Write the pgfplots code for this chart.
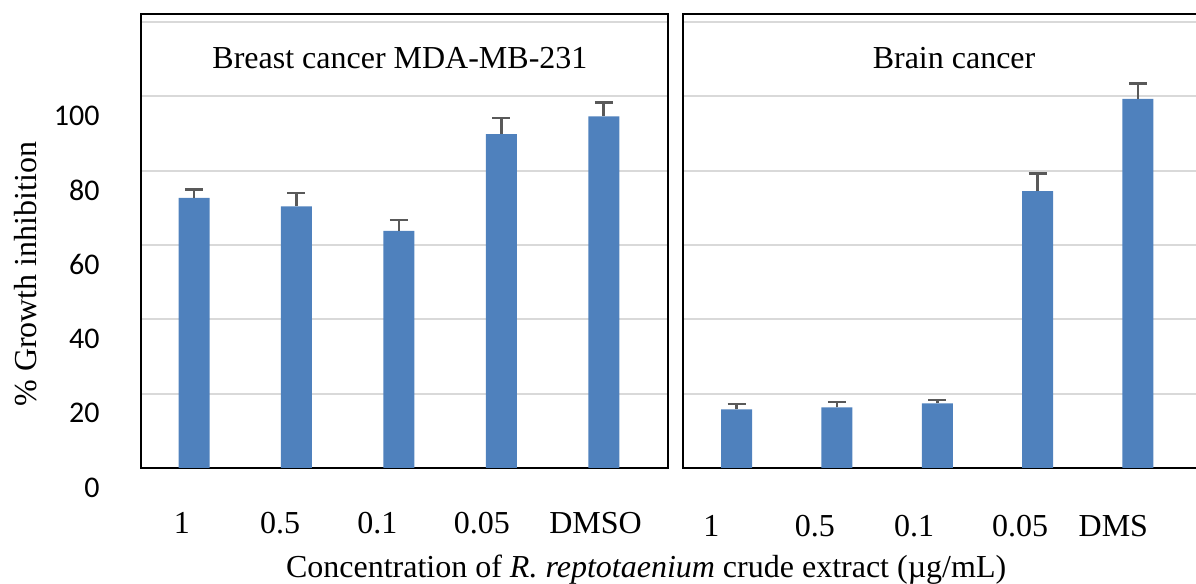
\documentclass[border=0pt]{standalone}
\usepackage{pgfplots}
\pgfplotsset{compat=1.18}
\usepackage{fontspec}
\setmainfont{Liberation Serif}
\newfontfamily\carlito{Carlito}
\definecolor{barblue}{HTML}{4F81BD}
\definecolor{errgray}{HTML}{595959}
\definecolor{gridgray}{HTML}{D9D9D9}
\begin{document}
\begin{tikzpicture}
\pgfplotsset{
  panel/.style={
    scale only axis,
    anchor=south west,
    height=227pt,
    ymin=0, ymax=122.14,
    ytick={0,20,40,60,80,100,120},
    ymajorgrids,
    major grid style={line width=1pt, gridgray},
    axis line style={line width=1.1pt, black},
    major tick length=0pt,
    ybar, bar width=15.5pt, bar shift=0pt,
    /pgf/number format/assume math mode=true,
    xticklabel style={font=\fontsize{16}{19}\selectfont, anchor=base},
    title style={font=\fontsize{16}{19}\selectfont, anchor=base},
    clip=false,
  },
  errbars/.style={
    fill=barblue, draw=none,
    error bars/.cd, y dir=plus, y explicit,
    error bar style={line width=1.3pt, errgray},
    error mark options={rotate=90, line width=1.3pt, errgray, mark size=4.5pt},
  },
}
% Left panel
\begin{axis}[panel,
  at={(70.5pt,58pt)}, width=263.35pt,
  xmin=-0.518, xmax=4.624,
  xtick={-0.12,0.84,1.79,2.81,3.92},
  xticklabels={1,0.5,0.1,0.05,DMSO},
  xticklabel style={yshift=-32.9pt},
  yticklabels={0,20,40,60,80,100,{}},
  yticklabel style={font=\carlito\fontsize{15}{18}\selectfont, anchor=east, inner sep=0pt, xshift=-20.5pt, yshift=-9.85pt},
  title={Breast cancer MDA-MB-231},
  title style={at={(0.5,1)}, xshift=-2.2pt, yshift=-33.25pt},
  ylabel={\% Growth inhibition},
  ylabel style={font=\fontsize{16}{19}\selectfont, at={(-0.2183,0.427)}, anchor=center},
  xlabel={Concentration of \textit{R. reptotaenium} crude extract (µg/mL)},
  xlabel style={font=\fontsize{16}{19}\selectfont, at={(0.959,0)}, anchor=base, yshift=-55pt},
]
\addplot[errbars] coordinates {
  (0,72.7) +- (0,2.3)
  (1,70.4) +- (0,3.6)
  (2,63.8) +- (0,2.9)
  (3,89.8) +- (0,4.4)
  (4,94.6) +- (0,3.7)
};
\end{axis}
% Right panel
\begin{axis}[panel,
  at={(341.35pt,58pt)}, width=259.65pt,
  xmin=-0.538, xmax=4.639,
  xtick={-0.253,0.78,1.77,2.825,3.755},
  xticklabels={1,0.5,0.1,0.05,DMS},
  xticklabel style={yshift=-34.4pt},
  yticklabels={},
  title={Brain cancer},
  title style={at={(0.5225,1)}, yshift=-33.25pt},
]
\addplot[errbars] coordinates {
  (0,15.8) +- (0,1.4)
  (1,16.3) +- (0,1.5)
  (2,17.4) +- (0,0.9)
  (3,74.5) +- (0,4.7)
  (4,99.3) +- (0,4.1)
};
\end{axis}
\pgfresetboundingbox
\path[use as bounding box] (0,0) rectangle (598pt,292pt);
\end{tikzpicture}
\end{document}
